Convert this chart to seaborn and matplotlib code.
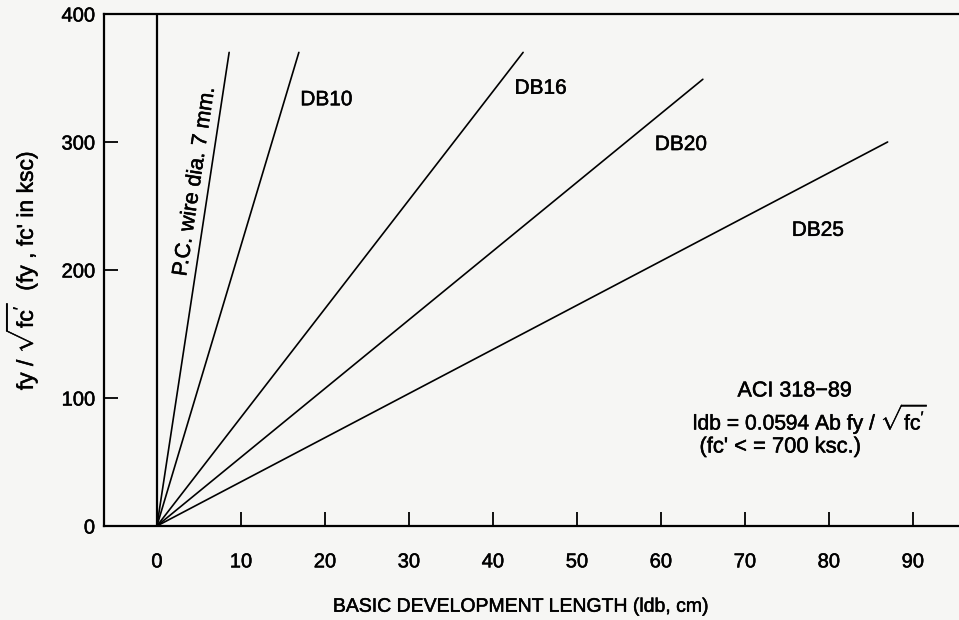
import numpy as np
import pandas as pd
import matplotlib
matplotlib.use("Agg")
import matplotlib.pyplot as plt
import matplotlib.patheffects as pe
import seaborn as sns

# ---- data ----
bars = ["P.C. wire dia. 7 mm.", "DB10", "DB16", "DB20", "DB25"]
end_ldb = [8.6, 16.9, 43.6, 65.0, 87.0]          # cm at end of each line
end_ratio = [370, 370, 370, 349, 300]             # fy/sqrt(fc') at end of each line
label_text = ["DB10", "DB16", "DB20", "DB25"]
label_x = [20.2, 45.7, 62.4, 78.7]
label_y = [333, 342, 298, 231]
xticks = [0, 10, 20, 30, 40, 50, 60, 70, 80, 90]
yticks = [0, 100, 200, 300, 400]

rows = []
for b, xe, ye in zip(bars, end_ldb, end_ratio):
    rows.append({"bar": b, "ldb": 0.0, "ratio": 0.0})
    rows.append({"bar": b, "ldb": xe, "ratio": ye})
df = pd.DataFrame(rows)

sns.set_theme(style="white")
plt.rcParams["font.family"] = ["Liberation Sans", "DejaVu Sans"]
plt.rcParams["mathtext.fontset"] = "custom"
plt.rcParams["mathtext.rm"] = "Liberation Sans"
plt.rcParams["mathtext.it"] = "Liberation Sans"
plt.rcParams["mathtext.sf"] = "Liberation Sans"

thick = [pe.withStroke(linewidth=0.35, foreground="black")]

bg = "#f6f6f4"
fig = plt.figure(figsize=(9.59, 6.20), dpi=100, facecolor=bg)
ax = fig.add_axes([104 / 959, 1 - 526 / 620, 1 - 104 / 959, (526 - 14) / 620])
ax.set_facecolor(bg)

sns.lineplot(data=df, x="ldb", y="ratio", hue="bar", palette=["black"] * len(bars),
             legend=False, ax=ax, linewidth=1.2, sort=False)
ax.axvline(0, color="black", linewidth=1.6)

ax.set_xlim(-6.3, 95.5)
ax.set_ylim(0, 400)
ax.set_xticks(xticks)
ax.set_yticks(yticks)
ax.tick_params(axis="x", direction="in", length=10, width=1.3, pad=19,
               labelsize=14.5, colors="black", bottom=True)
ax.tick_params(axis="y", direction="in", length=10, width=1.3, pad=6.5,
               labelsize=14.5, colors="black", left=True)
for lab in ax.get_xticklabels() + ax.get_yticklabels():
    lab.set_path_effects(thick)
for s in ["left", "top", "bottom"]:
    ax.spines[s].set_color("black")
    ax.spines[s].set_linewidth(1.6)
ax.spines["right"].set_visible(False)

# curve labels
for t, x, y in zip(label_text, label_x, label_y):
    ax.text(x, y, t, ha="center", va="center", fontsize=15, color="black",
            path_effects=thick)
ax.text(4.5, 269, bars[0], ha="center", va="center", rotation=81.5,
        rotation_mode="anchor", fontsize=15.5, color="black", path_effects=thick)

# formula block
ax.text(75.9, 105.5, "ACI 318\u221289", ha="center", va="center", fontsize=15.5,
        color="black", path_effects=thick)
ax.text(63.8, 83.6, r"ldb = 0.0594 Ab fy / $\sqrt{\mathrm{fc'}}$", ha="left", va="center",
        fontsize=15.2, color="black", path_effects=thick)
ax.text(64.6, 61.7, "(fc' < = 700 ksc.)", ha="left", va="center", fontsize=15.8,
        color="black", path_effects=thick)

ax.set_xlabel("BASIC DEVELOPMENT LENGTH (ldb, cm)", fontsize=14, color="black",
              path_effects=thick)
ax.xaxis.set_label_coords(0.488, -0.142)
ax.set_ylabel(r"fy / $\sqrt{\mathrm{fc'}}$  (fy , fc' in ksc)", fontsize=16.5, color="black",
              path_effects=thick)
ax.yaxis.set_label_coords(-0.0749, 0.5)

fig.savefig("out.png", dpi=100, facecolor=bg)
